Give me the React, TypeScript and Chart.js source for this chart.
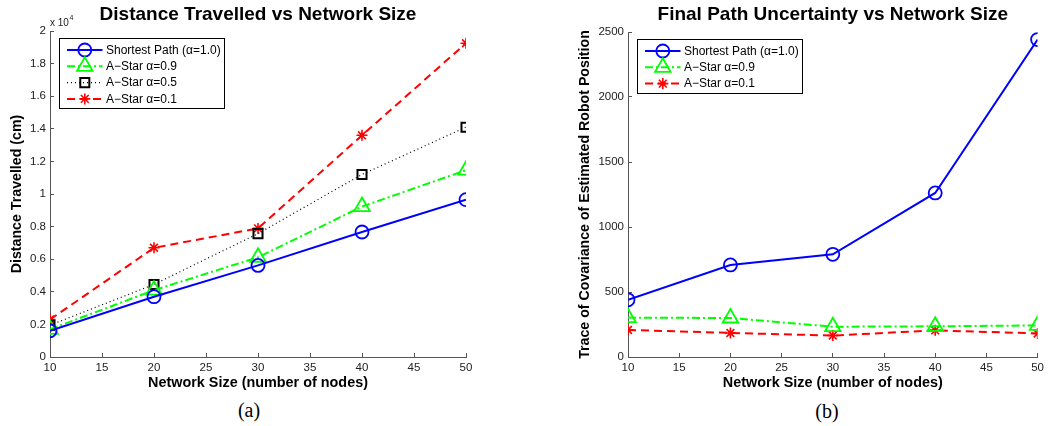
import React, { useEffect, useRef } from 'react';
import { Chart, registerables } from 'chart.js';

Chart.register(...registerables);

// ---------- data ----------
const nodes = [10, 20, 30, 40, 50];

// Distance travelled (cm)
const distShortest = [1610, 3700, 5620, 7670, 9650];
const distAStar09 = [1700, 4100, 6120, 9230, 11460];
const distAStar05 = [1950, 4450, 7570, 11200, 14100];
const distAStar01 = [2300, 6700, 7890, 13600, 19250];

// Trace of covariance
const uncShortest = [440, 708, 790, 1262, 2442];
const uncAStar09 = [303, 300, 233, 236, 243];
const uncAStar01 = [208, 185, 165, 205, 181];

const xTickLabels = ['10', '15', '20', '25', '30', '35', '40', '45', '50'];
const distTickLabels = ['0', '0.2', '0.4', '0.6', '0.8', '1', '1.2', '1.4', '1.6', '1.8', '2'];
const uncTickLabels = ['0', '500', '1000', '1500', '2000', '2500'];

const labelShortest = 'Shortest Path (\u03B1=1.0)';
const labelA09 = 'A\u2212Star \u03B1=0.9';
const labelA05 = 'A\u2212Star \u03B1=0.5';
const labelA01 = 'A\u2212Star \u03B1=0.1';

// ---------- styles ----------
const FONT = '"Liberation Sans", Arial, Helvetica, sans-serif';

type Style = {
  color: string;
  dash: number[];
  width: number;
  marker: 'circle' | 'triangle' | 'rect' | 'star';
  radius: number;
  markerWidth: number;
};

const sShortest: Style = { color: '#0000ff', dash: [], width: 2, marker: 'circle', radius: 6.5, markerWidth: 1.8 };
const sA09: Style = { color: '#00ff00', dash: [8, 3, 2, 3], width: 2, marker: 'triangle', radius: 9, markerWidth: 1.8 };
const sA05: Style = { color: '#000000', dash: [1, 3], width: 1.2, marker: 'rect', radius: 6.4, markerWidth: 2 };
const sA01: Style = { color: '#ff0000', dash: [8, 5], width: 2, marker: 'star', radius: 5.5, markerWidth: 1.6 };

function makeDataset(label: string, values: number[], s: Style) {
  return {
    label,
    data: nodes.map((x, i) => ({ x, y: values[i] })),
    borderColor: s.color,
    borderWidth: s.width,
    borderDash: s.dash,
    pointStyle: s.marker,
    pointRadius: s.radius,
    pointBorderWidth: s.markerWidth,
    pointBorderColor: s.color,
    pointBackgroundColor: 'rgba(0,0,0,0)',
    pointHoverRadius: s.radius,
    fill: false,
    tension: 0,
    _style: s,
  };
}

function drawMarker(ctx: CanvasRenderingContext2D, s: Style, x: number, y: number) {
  const r = s.radius;
  ctx.save();
  ctx.setLineDash([]);
  ctx.strokeStyle = s.color;
  ctx.lineWidth = s.markerWidth;
  ctx.beginPath();
  if (s.marker === 'circle') {
    ctx.arc(x, y, r, 0, Math.PI * 2);
  } else if (s.marker === 'triangle') {
    let a = 0;
    ctx.moveTo(x + Math.sin(a) * r, y - Math.cos(a) * r);
    a += (2 * Math.PI) / 3;
    ctx.lineTo(x + Math.sin(a) * r, y - Math.cos(a) * r);
    a += (2 * Math.PI) / 3;
    ctx.lineTo(x + Math.sin(a) * r, y - Math.cos(a) * r);
    ctx.closePath();
  } else if (s.marker === 'rect') {
    const h = Math.SQRT1_2 * r;
    ctx.rect(x - h, y - h, 2 * h, 2 * h);
  } else {
    for (let k = 0; k < 4; k++) {
      const a = (k * Math.PI) / 4;
      ctx.moveTo(x - Math.cos(a) * r, y - Math.sin(a) * r);
      ctx.lineTo(x + Math.cos(a) * r, y + Math.sin(a) * r);
    }
  }
  ctx.stroke();
  ctx.restore();
}

const matlabLegend = {
  id: 'matlabLegend',
  afterDatasetsDraw(chart: any) {
    const ctx: CanvasRenderingContext2D = chart.ctx;
    const area = chart.chartArea;
    const ds = chart.data.datasets;
    const boxLeft = Math.round(area.left + 9) + 0.5;
    const boxTop = Math.round(area.top + 6.5) + 0.5;
    ctx.save();
    ctx.font = `12px ${FONT}`;
    const maxW = Math.max(...ds.map((d: any) => ctx.measureText(d.label).width));
    const rowH = 16.3;
    const boxW = Math.round(47 + maxW + 3);
    const boxH = Math.round(11.5 + rowH * (ds.length - 1) + 10);
    ctx.fillStyle = '#ffffff';
    ctx.fillRect(boxLeft, boxTop, boxW, boxH);
    ctx.strokeStyle = '#000000';
    ctx.lineWidth = 1;
    ctx.setLineDash([]);
    ctx.strokeRect(boxLeft, boxTop, boxW, boxH);
    ds.forEach((d: any, i: number) => {
      const s: Style = d._style;
      const y = boxTop + 11.5 + i * rowH;
      ctx.save();
      ctx.strokeStyle = s.color;
      ctx.lineWidth = s.width;
      ctx.setLineDash(s.dash);
      ctx.beginPath();
      ctx.moveTo(boxLeft + 7.5, y);
      ctx.lineTo(boxLeft + 43, y);
      ctx.stroke();
      ctx.restore();
      drawMarker(ctx, s, boxLeft + 25.3, y);
      ctx.fillStyle = '#000000';
      ctx.textBaseline = 'middle';
      ctx.textAlign = 'left';
      ctx.fillText(d.label, boxLeft + 46.5, y + 0.5);
    });
    ctx.restore();
  },
};

const exponentLabel = {
  id: 'exponentLabel',
  afterDraw(chart: any) {
    const opts = chart.options.plugins.exponentLabel;
    if (!opts || !opts.show) return;
    const ctx: CanvasRenderingContext2D = chart.ctx;
    const x0 = chart.chartArea.left;
    ctx.save();
    ctx.fillStyle = '#222222';
    ctx.textBaseline = 'alphabetic';
    ctx.textAlign = 'left';
    ctx.font = `10px ${FONT}`;
    const base = 'x 10';
    ctx.fillText(base, x0, 25.5);
    const w = ctx.measureText(base).width;
    ctx.font = `7px ${FONT}`;
    ctx.fillText('4', x0 + w + 0.5, 20);
    ctx.restore();
  },
};

function makeOptions(p: {
  title: string;
  yTitle: string;
  yMax: number;
  yStep: number;
  yTicks: string[];
  yWidth: number;
  padRight: number;
  titleBottom: number;
  yTitlePadTop: number;
  exponent: boolean;
}) {
  const axisColor = '#555555';
  const tickColor = '#222222';
  return {
    responsive: false,
    animation: false as const,
    events: [] as any[],
    layout: { padding: { left: 0, right: p.padRight, top: 0, bottom: 0 } },
    plugins: {
      legend: { display: false },
      tooltip: { enabled: false },
      title: {
        display: true,
        text: p.title,
        fullSize: false,
        color: '#000000',
        font: { family: FONT, size: 19, weight: 'bold' },
        padding: { top: 3.2, bottom: p.titleBottom },
      },
      exponentLabel: { show: p.exponent },
    },
    scales: {
      x: {
        type: 'linear',
        min: 10,
        max: 50,
        border: { display: true, color: axisColor, width: 1 },
        grid: { drawOnChartArea: false, drawTicks: true, tickLength: -4, color: axisColor },
        ticks: {
          stepSize: 5,
          autoSkip: false,
          maxRotation: 0,
          padding: 8,
          color: tickColor,
          font: { family: FONT, size: 11.5 },
          callback: (_v: any, i: number) => xTickLabels[i],
        },
        title: {
          display: true,
          text: 'Network Size (number of nodes)',
          color: '#000000',
          font: { family: FONT, size: 14.4, weight: 'bold' },
          padding: { top: 0, bottom: 5.1 },
        },
        afterFit: (scale: any) => {
          scale.height = 40;
        },
      },
      y: {
        type: 'linear',
        min: 0,
        max: p.yMax,
        border: { display: true, color: axisColor, width: 1 },
        grid: { drawOnChartArea: false, drawTicks: true, tickLength: -4, color: axisColor },
        ticks: {
          stepSize: p.yStep,
          autoSkip: false,
          padding: 8,
          color: tickColor,
          font: { family: FONT, size: 11.5 },
          callback: (_v: any, i: number) => p.yTicks[i],
        },
        title: {
          display: true,
          text: p.yTitle,
          color: '#000000',
          font: { family: FONT, size: 14.2, weight: 'bold' },
          padding: { top: p.yTitlePadTop, bottom: 0 },
        },
        afterFit: (scale: any) => {
          scale.width = p.yWidth;
        },
      },
    },
  } as any;
}

function Panel(props: { left: number; width: number; height: number; config: any }) {
  const ref = useRef<HTMLCanvasElement | null>(null);
  useEffect(() => {
    if (!ref.current) return;
    const chart = new Chart(ref.current, props.config);
    return () => chart.destroy();
  }, []);
  return (
    <canvas
      ref={ref}
      width={props.width}
      height={props.height}
      style={{ position: 'absolute', left: props.left, top: 0, width: props.width, height: props.height, display: 'block' }}
    />
  );
}

const leftConfig = {
  type: 'line',
  data: {
    datasets: [
      makeDataset(labelShortest, distShortest, sShortest),
      makeDataset(labelA09, distAStar09, sA09),
      makeDataset(labelA05, distAStar05, sA05),
      makeDataset(labelA01, distAStar01, sA01),
    ],
  },
  options: makeOptions({
    title: 'Distance Travelled vs Network Size',
    yTitle: 'Distance Travelled (cm)',
    yMax: 20000,
    yStep: 2000,
    yTicks: distTickLabels,
    yWidth: 50,
    padRight: 60,
    titleBottom: 5.0,
    yTitlePadTop: 8.2,
    exponent: true,
  }),
  plugins: [matlabLegend, exponentLabel],
};

const rightConfig = {
  type: 'line',
  data: {
    datasets: [
      makeDataset(labelShortest, uncShortest, sShortest),
      makeDataset(labelA09, uncAStar09, sA09),
      makeDataset(labelA01, uncAStar01, sA01),
    ],
  },
  options: makeOptions({
    title: 'Final Path Uncertainty vs Network Size',
    yTitle: 'Trace of Covariance of Estimated Robot Position',
    yMax: 2500,
    yStep: 500,
    yTicks: uncTickLabels,
    yWidth: 102,
    padRight: 7,
    titleBottom: 6.0,
    yTitlePadTop: 50.9,
    exponent: false,
  }),
  plugins: [matlabLegend, exponentLabel],
};

const captionStyle: React.CSSProperties = {
  position: 'absolute',
  width: 100,
  textAlign: 'center',
  fontFamily: '"Liberation Serif", "Times New Roman", serif',
  fontSize: 20,
  lineHeight: '22px',
  color: '#000',
};

export default function App() {
  return (
    <div style={{ position: 'absolute', left: 0, top: 0, width: 1052, height: 426, background: '#fff', overflow: 'hidden' }}>
      <Panel left={0} width={526} height={397} config={leftConfig} />
      <Panel left={526} width={526} height={397} config={rightConfig} />
      <div style={{ ...captionStyle, left: 199, top: 399 }}>(a)</div>
      <div style={{ ...captionStyle, left: 777, top: 400 }}>(b)</div>
    </div>
  );
}
